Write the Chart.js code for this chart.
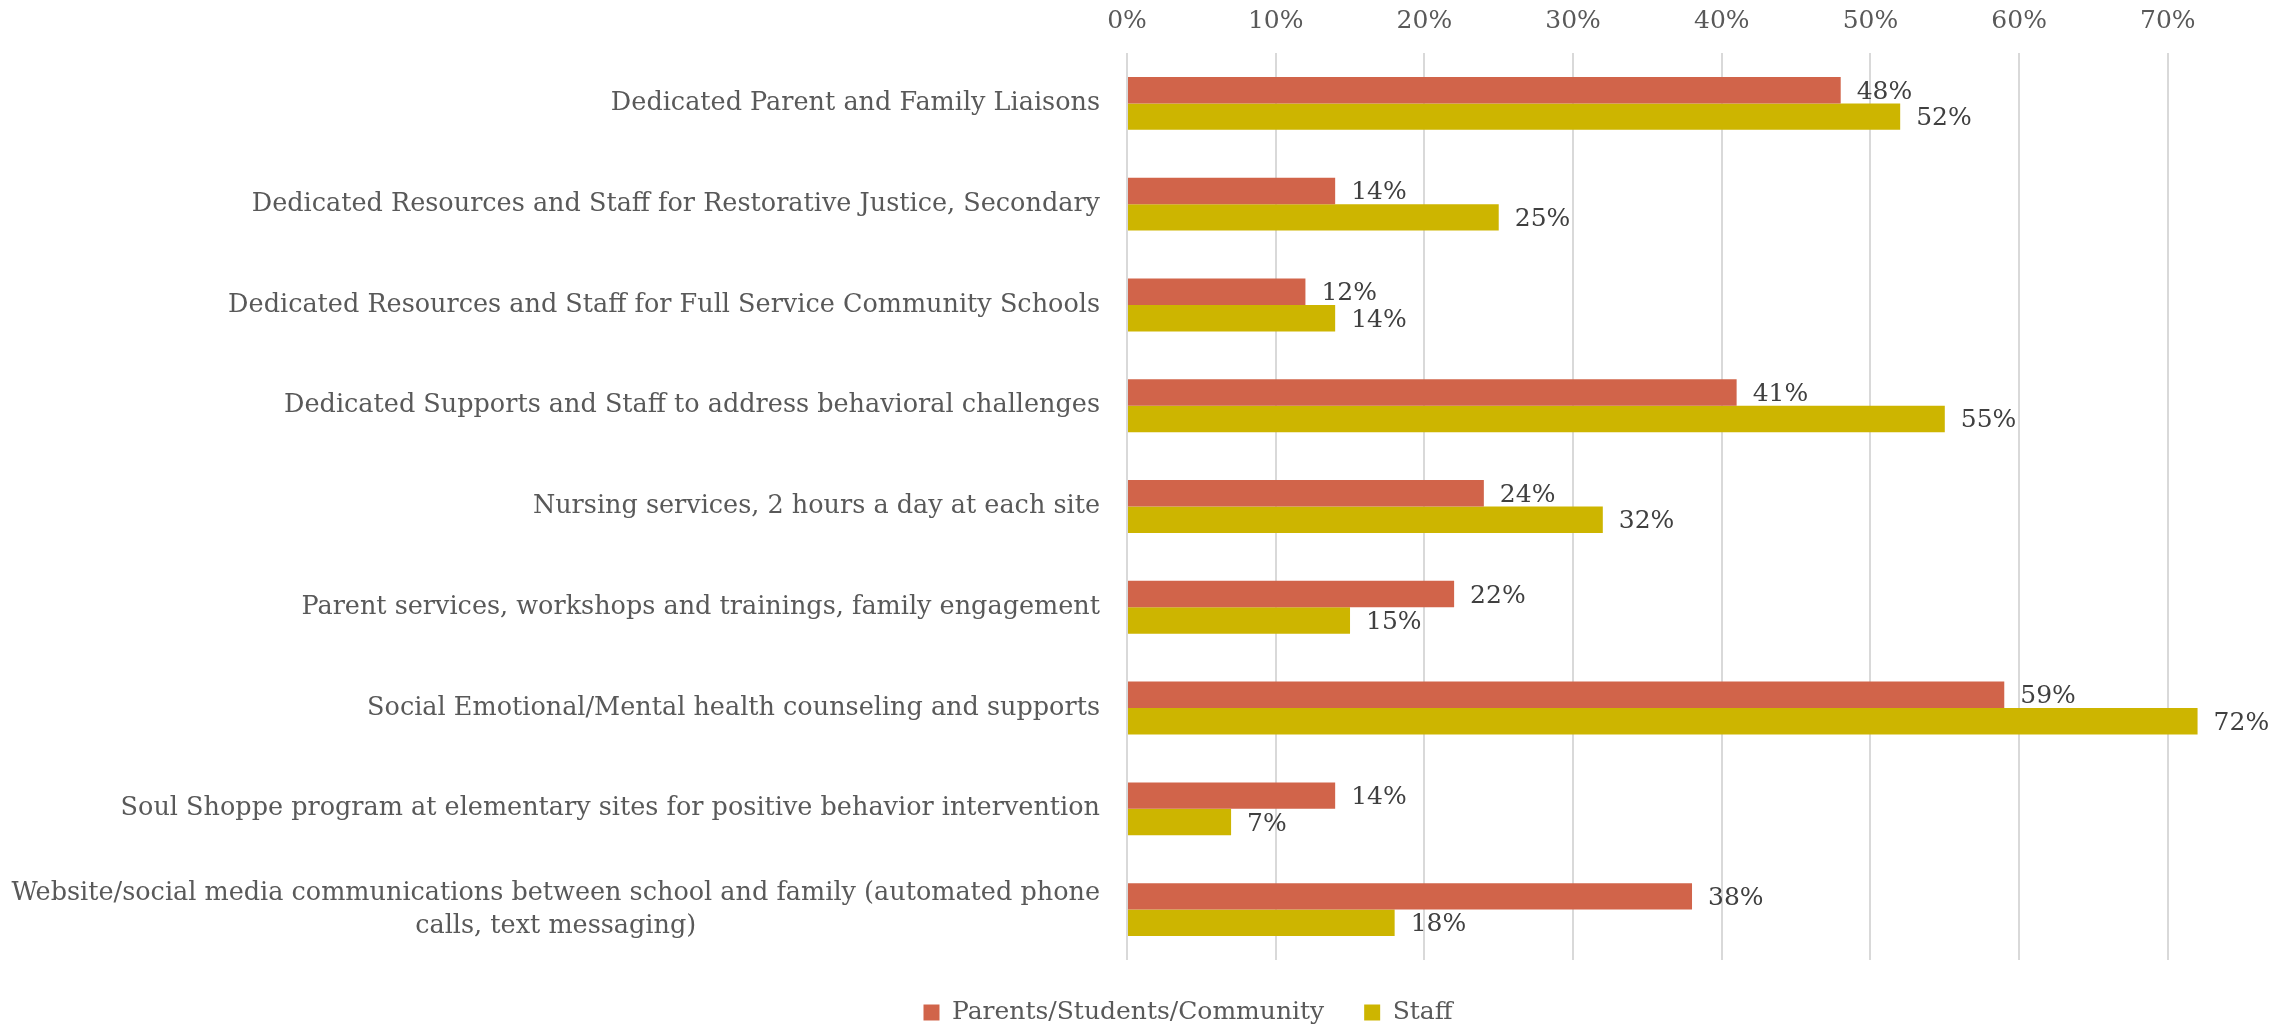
<!DOCTYPE html>
<html>
<head>
<meta charset="utf-8">
<script src="https://cdn.jsdelivr.net/npm/chart.js@4.4.0/dist/chart.umd.min.js"></script>
<style>
  html, body { margin: 0; padding: 0; background: #fff; }
  #wrap { width: 2278px; height: 1029px; }
</style>
</head>
<body>
<div id="wrap"><canvas id="chart" width="2278" height="1029"></canvas></div>
<script>
// chart data
const categories = [
    'Dedicated Parent and Family Liaisons',
    'Dedicated Resources and Staff for Restorative Justice, Secondary',
    'Dedicated Resources and Staff for Full Service Community Schools',
    'Dedicated Supports and Staff to address behavioral challenges',
    'Nursing services, 2 hours a day at each site',
    'Parent services, workshops and trainings, family engagement',
    'Social Emotional/Mental health counseling and supports',
    'Soul Shoppe program at elementary sites for positive behavior intervention',
    ['Website/social media communications between school and family (automated phone', 'calls, text messaging)']
];
const seriesNames = ['Parents/Students/Community', 'Staff'];
const parentsValues = [48, 14, 12, 41, 24, 22, 59, 14, 38];
const staffValues = [52, 25, 14, 55, 32, 15, 72, 7, 18];
const tickValues = [0, 10, 20, 30, 40, 50, 60, 70];

const FONT = '"DejaVu Serif", Georgia, serif';
const AXIS_GRAY = '#595959';

// value labels at the end of each bar
const valueLabels = {
    id: 'valueLabels',
    afterDatasetsDraw(chart) {
        const ctx = chart.ctx;
        ctx.save();
        ctx.font = '25px ' + FONT;
        ctx.fillStyle = '#404040';
        ctx.textAlign = 'left';
        ctx.textBaseline = 'middle';
        chart.data.datasets.forEach((ds, i) => {
            chart.getDatasetMeta(i).data.forEach((bar, j) => {
                ctx.fillText(ds.data[j] + '%', bar.x + 16, bar.y + 2);
            });
        });
        ctx.restore();
    }
};

// category labels: right aligned block, lines centered inside it (like Excel)
const categoryLabels = {
    id: 'categoryLabels',
    afterDraw(chart) {
        const yScale = chart.scales.y;
        const ctx = chart.ctx;
        const right = yScale.right - 27;
        const lineHeight = 33;
        ctx.save();
        ctx.font = '25.5px ' + FONT;
        ctx.fillStyle = AXIS_GRAY;
        ctx.textAlign = 'center';
        ctx.textBaseline = 'middle';
        categories.forEach((label, i) => {
            const lines = [].concat(label);
            const widest = Math.max(...lines.map(l => ctx.measureText(l).width));
            const cx = right - widest / 2;
            const y0 = yScale.getPixelForTick(i) - (lines.length - 1) * lineHeight / 2;
            lines.forEach((line, k) => ctx.fillText(line, cx, y0 + k * lineHeight));
        });
        ctx.restore();
    }
};

const ctx = document.getElementById('chart').getContext('2d');
new Chart(ctx, {
    type: 'bar',
    data: {
        labels: categories,
        datasets: [{
            label: seriesNames[0],
            data: parentsValues,
            backgroundColor: '#D1644A'
        }, {
            label: seriesNames[1],
            data: staffValues,
            backgroundColor: '#CDB500'
        }]
    },
    options: {
        indexAxis: 'y',
        responsive: false,
        animation: false,
        categoryPercentage: 0.525,
        barPercentage: 1.0,
        layout: {
            // left padding only moves the legend centre; plot left stays at 1127
            padding: { top: -11, right: 73, left: 171, bottom: -6 }
        },
        scales: {
            x: {
                position: 'top',
                min: 0,
                max: 72.5,
                afterBuildTicks: (scale) => {
                    scale.ticks = tickValues.map(v => ({ value: v }));
                },
                ticks: {
                    padding: 17,
                    color: AXIS_GRAY,
                    font: { family: FONT, size: 25 },
                    callback: (v) => v + '%'
                },
                grid: { color: '#d9d9d9', lineWidth: 2, drawTicks: false },
                border: { display: false }
            },
            y: {
                afterFit: (scale) => { scale.width = 1127 - 171; },
                ticks: { display: false },
                grid: { display: false },
                border: { display: false }
            }
        },
        plugins: {
            legend: {
                position: 'bottom',
                labels: {
                    boxWidth: 16,
                    boxHeight: 16,
                    padding: 40,
                    color: AXIS_GRAY,
                    font: { family: FONT, size: 25 }
                }
            },
            tooltip: { enabled: false }
        }
    },
    plugins: [valueLabels, categoryLabels]
});
</script>
</body>
</html>
